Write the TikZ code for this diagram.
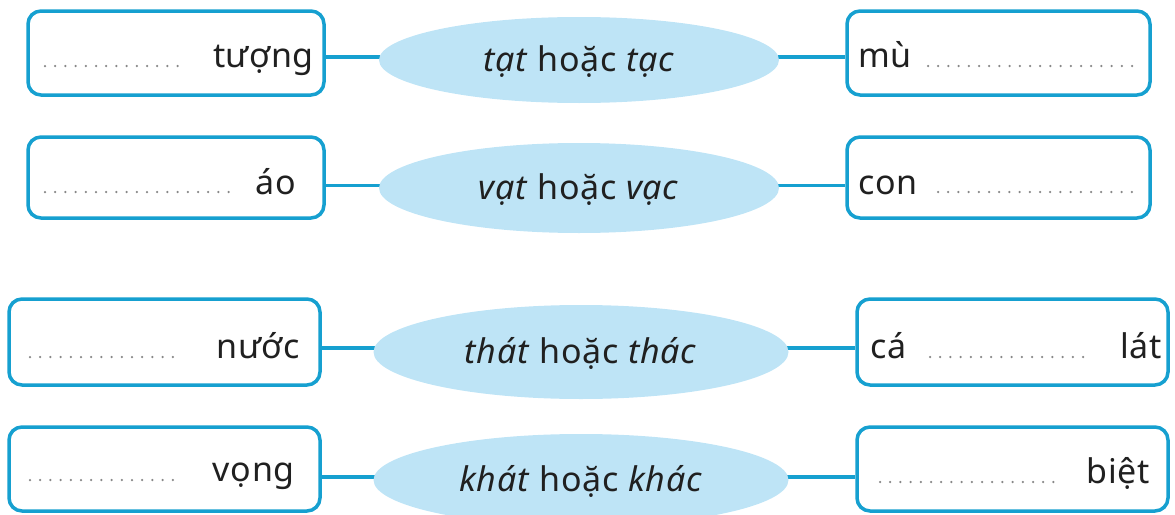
\documentclass[tikz,border=0pt]{standalone}
\usepackage{fontspec}
\setmainfont{Noto Sans}[LetterSpace=2]
\usetikzlibrary{shapes.geometric}
\definecolor{bblue}{RGB}{22,160,208}
\definecolor{efill}{RGB}{190,228,246}
\definecolor{txt}{RGB}{32,32,32}
\definecolor{dotc}{RGB}{135,135,135}
\begin{document}
\begin{tikzpicture}[x=1pt,y=-1pt,
  wbox/.style={draw=bblue, line width=3.5pt, rounded corners=13pt, fill=white, inner sep=0pt},
  oval/.style={ellipse, fill=efill, inner sep=0pt, font=\fontsize{34}{36}\selectfont, text=txt,
    text height=22pt, text depth=0pt},
  link/.style={draw=bblue, line width=3.2pt},
  word/.style={font=\fontsize{34}{36}\selectfont, text=txt, inner sep=0pt},
  lead/.style={draw=dotc, line width=2.5pt, line cap=round, dash pattern=on 0pt off 10.2pt}]
\useasboundingbox (0,0) rectangle (1175,514);
\clip (0,0) rectangle (1175,514);
% boxes
\node[wbox, minimum width=296pt, minimum height=84pt] (l1) at (176,53) {};
\node[wbox, minimum width=303pt, minimum height=84pt] (r1) at (998.5,53) {};
\node[wbox, minimum width=296pt, minimum height=81pt] (l2) at (176,177.5) {};
\node[wbox, minimum width=303pt, minimum height=81pt] (r2) at (998.5,177.5) {};
\node[wbox, minimum width=311pt, minimum height=86pt] (l3) at (164.5,342) {};
\node[wbox, minimum width=311pt, minimum height=86pt] (r3) at (1012.5,342) {};
\node[wbox, minimum width=311pt, minimum height=84pt] (l4) at (164.5,469) {};
\node[wbox, minimum width=311pt, minimum height=84pt] (r4) at (1012.5,469) {};
% ellipse centres
\coordinate (c1) at (579,60);
\coordinate (c2) at (579,188);
\coordinate (c3) at (581,352);
\coordinate (c4) at (581,480);
% connectors
\draw[link] ([shift={(0,4)}]l1.east) coordinate (a1) -- (a1 -| c1);
\draw[link] ([shift={(0,4)}]r1.west) coordinate (b1) -- (b1 -| c1);
\draw[link] ([shift={(0,8)}]l2.east) coordinate (a2) -- (a2 -| c2);
\draw[link] ([shift={(0,8)}]r2.west) coordinate (b2) -- (b2 -| c2);
\draw[link] ([shift={(0,6)}]l3.east) coordinate (a3) -- (a3 -| c3);
\draw[link] ([shift={(0,6)}]r3.west) coordinate (b3) -- (b3 -| c3);
\draw[link] ([shift={(0,8)}]l4.east) coordinate (a4) -- (a4 -| c4);
\draw[link] ([shift={(0,8)}]r4.west) coordinate (b4) -- (b4 -| c4);
% ellipses
\node[oval, minimum width=400pt, minimum height=86pt] (e1) at (c1) {\textit{tạt} hoặc \textit{tạc}};
\node[oval, minimum width=400pt, minimum height=90pt] (e2) at (c2) {\textit{vạt} hoặc \textit{vạc}};
\node[oval, minimum width=415pt, minimum height=94pt] (e3) at (c3) {\textit{thát} hoặc \textit{thác}};
\node[oval, minimum width=415pt, minimum height=92pt] (e4) at (c4) {\textit{khát} hoặc \textit{khác}};
% words
\node[word, anchor=base east] (w1) at (314,67) {tượng};
\node[word, anchor=base west] (w2) at (858,67) {mù};
\node[word, anchor=base east] (w3) at (296,194) {áo};
\node[word, anchor=base west] (w4) at (858,194) {con};
\node[word, anchor=base east] (w5) at (300,358) {nước};
\node[word, anchor=base west] (w6) at (870,358) {cá};
\node[word, anchor=base east] (w7) at (1162,358) {lát};
\node[word, anchor=base east] (w8) at (295,481) {vọng};
\node[word, anchor=base east] (w9) at (1150,483) {biệt};
% leaders
\draw[lead] (45,66) -- (187,66);
\draw[lead] (928,66) -- (1135,66);
\draw[lead] (45,192) -- (230,192);
\draw[lead] (938,192) -- (1132,192);
\draw[lead] (30,357) -- (182,357);
\draw[lead] (930,357) -- (1093,357);
\draw[lead] (30,480) -- (182,480);
\draw[lead] (880,482) -- (1058,482);
\end{tikzpicture}
\end{document}
